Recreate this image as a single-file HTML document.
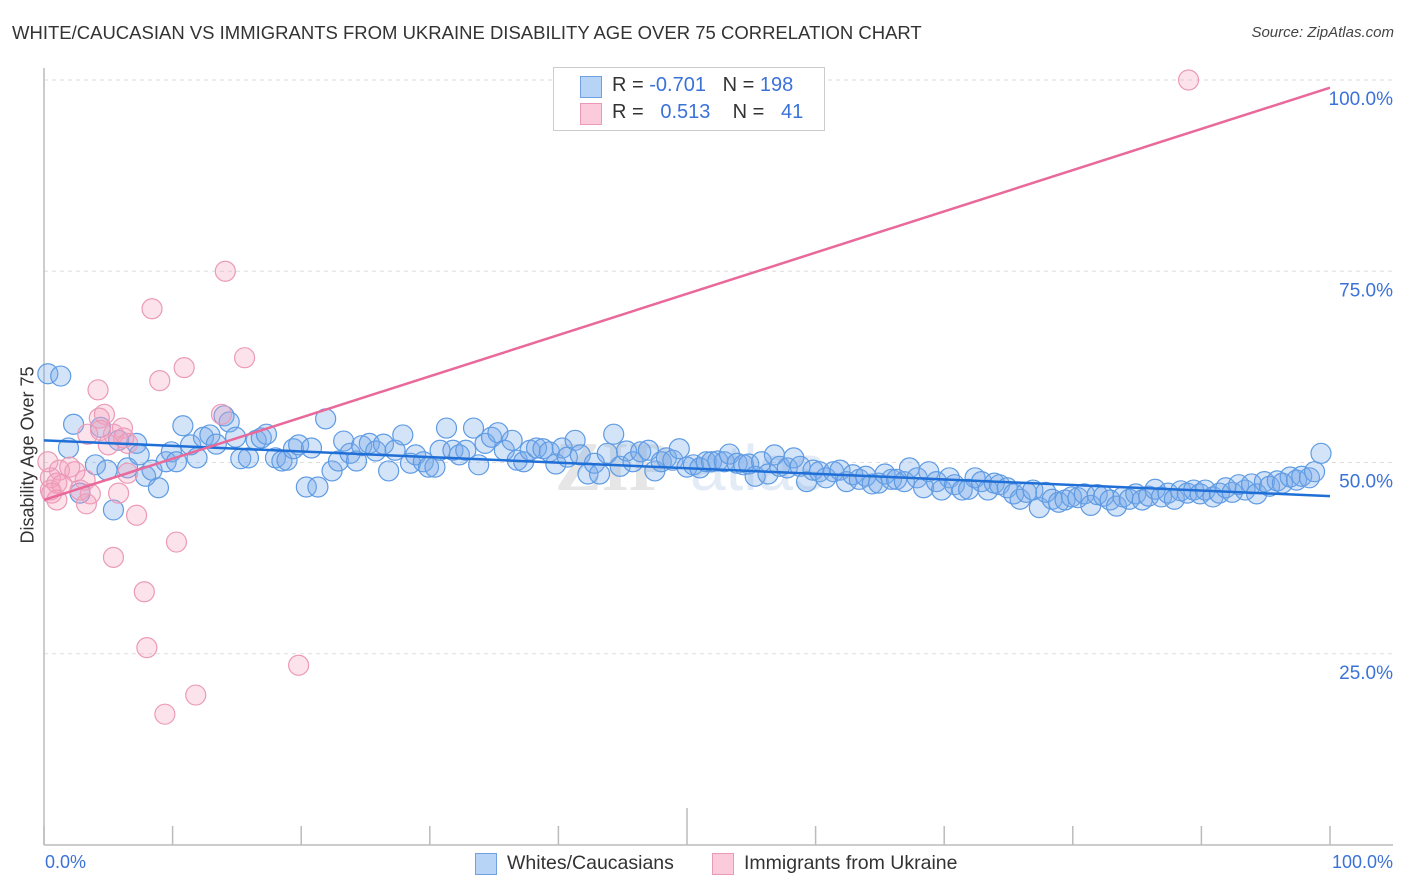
<!DOCTYPE html>
<html><head><meta charset="utf-8"><style>
body{margin:0;background:#fff;font-family:"Liberation Sans",sans-serif;}
#wrap{position:relative;width:1406px;height:892px;overflow:hidden;}
.t{position:absolute;white-space:nowrap;}
</style></head><body>
<div id="wrap">
<div class="t" style="left:12px;top:22px;font-size:18.5px;color:#333;">WHITE/CAUCASIAN VS IMMIGRANTS FROM UKRAINE DISABILITY AGE OVER 75 CORRELATION CHART</div>
<div class="t" style="right:12px;top:24px;font-size:15px;color:#444;font-style:italic;">Source: ZipAtlas.com</div>
<div class="t" style="left:28px;top:455px;font-size:18px;color:#333;transform:translate(-50%,-50%) rotate(-90deg);">Disability Age Over 75</div>
<svg id="plot" width="1406" height="892" style="position:absolute;left:0;top:0"></svg>
<div style="position:absolute;left:553px;top:67px;width:270px;height:62px;border:1px solid #ccc;background:#fff;font-size:20px;">
 <div style="position:absolute;left:26px;top:8px;width:20px;height:20px;background:#b7d3f5;border:1px solid #6fa1e0;"></div>
 <div class="t" style="left:58px;top:6px;color:#333;">R = <span style="color:#3b72d9">-0.701</span>&nbsp;&nbsp;&nbsp;N = <span style="color:#3b72d9">198</span></div>
 <div style="position:absolute;left:26px;top:35px;width:20px;height:20px;background:#fbcadb;border:1px solid #ea9ab6;"></div>
 <div class="t" style="left:58px;top:33px;color:#333;">R = &nbsp;&nbsp;<span style="color:#3b72d9">0.513</span>&nbsp;&nbsp;&nbsp;&nbsp;N = &nbsp;&nbsp;<span style="color:#3b72d9">41</span></div>
</div>
<div class="t" style="left:45px;top:852px;font-size:18px;color:#3b72d9;">0.0%</div>
<div class="t" style="right:13px;top:852px;font-size:18px;color:#3b72d9;">100.0%</div>
<div style="position:absolute;left:475px;top:853px;width:20px;height:20px;background:#b7d3f5;border:1px solid #6fa1e0;"></div>
<div class="t" style="left:507px;top:852px;font-size:19.5px;color:#333;">Whites/Caucasians</div>
<div style="position:absolute;left:712px;top:853px;width:20px;height:20px;background:#fbcadb;border:1px solid #ea9ab6;"></div>
<div class="t" style="left:744px;top:852px;font-size:19.5px;color:#333;">Immigrants from Ukraine</div>
</div>
<script>
const yTicks=[25,50,75,100];
const yTickLabels=["25.0%","50.0%","75.0%","100.0%"];
const xTicks=[0,10,20,30,40,50,60,70,80,90,100];
const blueX=[0.3,1.3,2.3,1.9,4.0,2.8,4.4,4.9,5.4,5.8,6.5,7.2,7.4,7.9,8.4,8.9,9.5,9.9,10.3,10.8,11.4,11.9,12.4,12.9,13.4,14.0,14.4,14.9,15.3,15.9,16.5,16.9,17.3,18.0,18.5,18.9,19.4,19.8,20.4,20.8,21.3,21.9,22.4,22.9,23.3,23.8,24.3,24.7,25.3,25.8,26.4,26.8,27.3,27.9,28.5,28.9,29.5,29.9,30.4,30.8,31.3,31.8,32.3,32.8,33.4,33.8,34.3,34.8,35.3,35.8,36.4,36.8,37.3,37.8,38.3,38.8,39.3,39.8,40.3,40.7,41.3,41.7,42.3,42.8,43.2,43.8,44.3,44.8,45.3,45.8,46.4,47.0,47.5,48.0,48.4,48.9,49.4,50.0,50.5,51.0,51.5,51.9,52.4,52.9,53.3,53.9,54.4,54.8,55.3,55.8,56.3,56.8,57.2,57.8,58.3,58.8,59.3,59.8,60.3,60.8,61.4,61.9,62.4,62.9,63.4,63.9,64.4,64.9,65.4,65.9,66.3,66.9,67.3,67.9,68.4,68.8,69.4,69.8,70.4,70.8,71.4,71.9,72.4,72.9,73.4,73.9,74.3,74.9,75.4,75.9,76.4,76.9,77.4,77.9,78.4,78.9,79.4,79.9,80.4,80.9,81.4,81.9,82.4,82.9,83.4,83.9,84.4,84.9,85.4,85.9,86.4,86.9,87.4,87.9,88.4,88.9,89.4,89.9,90.3,90.9,91.4,91.9,92.4,92.9,93.4,93.9,94.3,94.9,95.3,95.9,96.3,96.9,97.4,97.8,98.4,98.8,99.3];
const blueY=[61.6,61.3,55.0,51.9,49.7,46.0,54.6,49.0,43.8,52.9,49.3,52.5,51.0,48.2,49.0,46.7,50.1,51.4,50.1,54.8,52.3,50.6,53.3,53.6,52.4,56.1,55.3,53.3,50.5,50.6,52.9,53.2,53.7,50.6,50.2,50.3,51.8,52.3,46.8,51.9,46.8,55.7,48.9,50.2,52.8,51.2,50.2,52.2,52.5,51.5,52.4,48.9,51.6,53.6,49.9,51.0,50.1,49.4,49.4,51.6,54.5,51.6,51.0,51.6,54.5,49.7,52.5,53.3,53.9,51.6,52.9,50.3,50.1,51.6,51.9,51.8,51.4,49.8,51.9,50.7,52.9,51.0,48.5,49.9,48.5,51.2,53.7,49.5,51.5,50.1,51.4,51.6,48.9,50.1,50.6,50.3,51.8,49.4,49.7,49.3,50.1,50.1,50.2,50.1,51.1,49.9,49.7,49.8,48.2,50.1,48.5,51.0,49.5,49.3,50.6,49.5,47.5,49.0,48.8,48.0,48.8,49.0,47.5,48.4,47.8,48.2,47.2,47.3,48.5,47.8,47.8,47.5,49.3,48.0,46.7,48.8,47.5,46.4,48.0,47.1,46.4,46.5,48.0,47.5,46.4,47.3,47.1,46.7,45.9,45.2,46.1,46.4,44.1,46.1,45.2,44.8,45.1,45.5,45.4,45.9,44.4,45.8,45.6,45.1,44.3,45.5,45.2,45.9,45.1,45.6,46.5,45.5,46.0,45.2,46.3,46.0,46.4,45.9,46.4,45.5,46.0,46.7,46.1,47.1,46.4,47.2,45.9,47.5,46.9,47.6,47.3,48.1,47.7,48.2,48.0,48.8,51.2];
const pinkX=[89.0,14.1,8.4,15.6,10.9,9.0,4.2,13.8,4.7,4.3,6.1,5.4,6.2,4.4,3.4,5.0,6.5,1.2,2.0,2.4,0.5,1.0,0.5,0.6,1.4,3.2,3.6,2.8,1.0,3.3,5.8,6.5,7.2,5.4,10.3,7.8,8.0,19.8,11.8,9.4,0.3];
const pinkY=[100.0,75.0,70.1,63.7,62.4,60.7,59.5,56.3,56.3,55.8,54.5,53.7,53.2,54.2,53.7,52.3,52.5,49.0,49.4,48.8,48.0,47.3,46.4,46.0,47.1,47.7,45.9,46.4,45.1,44.6,46.0,48.6,43.1,37.6,39.6,33.1,25.8,23.5,19.6,17.1,50.1];
const blueTrend=[52.9,45.6];
const pinkTrend=[45.1,99.0];
const X0=44,X1=1330,Y0=845,Y100=80;
function sx(v){return X0+(X1-X0)*v/100;}
function sy(v){return Y0-(Y0-Y100)*v/100;}
const svg=document.getElementById('plot');
const NS='http://www.w3.org/2000/svg';
function mk(tag,attrs){const e=document.createElementNS(NS,tag);for(const k in attrs)e.setAttribute(k,attrs[k]);svg.appendChild(e);return e;}
yTicks.forEach((t,i)=>{
 const g=mk('line',{x1:44,x2:1393,y1:sy(t),y2:sy(t),stroke:'#ddd','stroke-dasharray':'4,4','stroke-width':1});
 
 
 const tx=mk('text',{x:1393,y:sy(t)+25,'text-anchor':'end','font-size':19,fill:'#3b72d9','font-family':'Liberation Sans, sans-serif'});
 tx.textContent=yTickLabels[i];
 
 
});
const wm=mk('text',{x:555,y:490,'font-size':70,fill:'#e6e6e6','font-family':'Liberation Serif, serif','font-weight':'bold'});
wm.textContent='ZIP';


const wm2=mk('text',{x:690,y:490,'font-size':64,fill:'#e3ebf6','font-family':'Liberation Sans, sans-serif'});
wm2.textContent='atlas';


const ya=mk('line',{x1:44,x2:44,y1:68,y2:845,stroke:'#bbb','stroke-width':1.5});


const xa=mk('line',{x1:44,x2:1393,y1:845,y2:845,stroke:'#bbb','stroke-width':1.5});


xTicks.forEach(t=>{
 const l=mk('line',{x1:sx(t),x2:sx(t),y1:t===50?808:826,y2:845,stroke:'#bbb','stroke-width':1.5});
 
 
});
blueX.forEach((v,i)=>{
 const c=mk('circle',{cx:sx(v),cy:sy(blueY[i]),r:10,fill:'rgba(120,170,235,0.33)',stroke:'#5e9be3','stroke-width':1.2});
 
 
});
pinkX.forEach((v,i)=>{
 const c=mk('circle',{cx:sx(v),cy:sy(pinkY[i]),r:10,fill:'rgba(245,160,190,0.3)',stroke:'#eb9ab7','stroke-width':1.2});
 
 
});
const bt=mk('line',{x1:sx(0),y1:sy(blueTrend[0]),x2:sx(100),y2:sy(blueTrend[1]),stroke:'#1f6fd6','stroke-width':2.5});


const pt=mk('line',{x1:sx(0),y1:sy(pinkTrend[0]),x2:sx(100),y2:sy(pinkTrend[1]),stroke:'#e8699a','stroke-width':2.5});


</script>
</body></html>
